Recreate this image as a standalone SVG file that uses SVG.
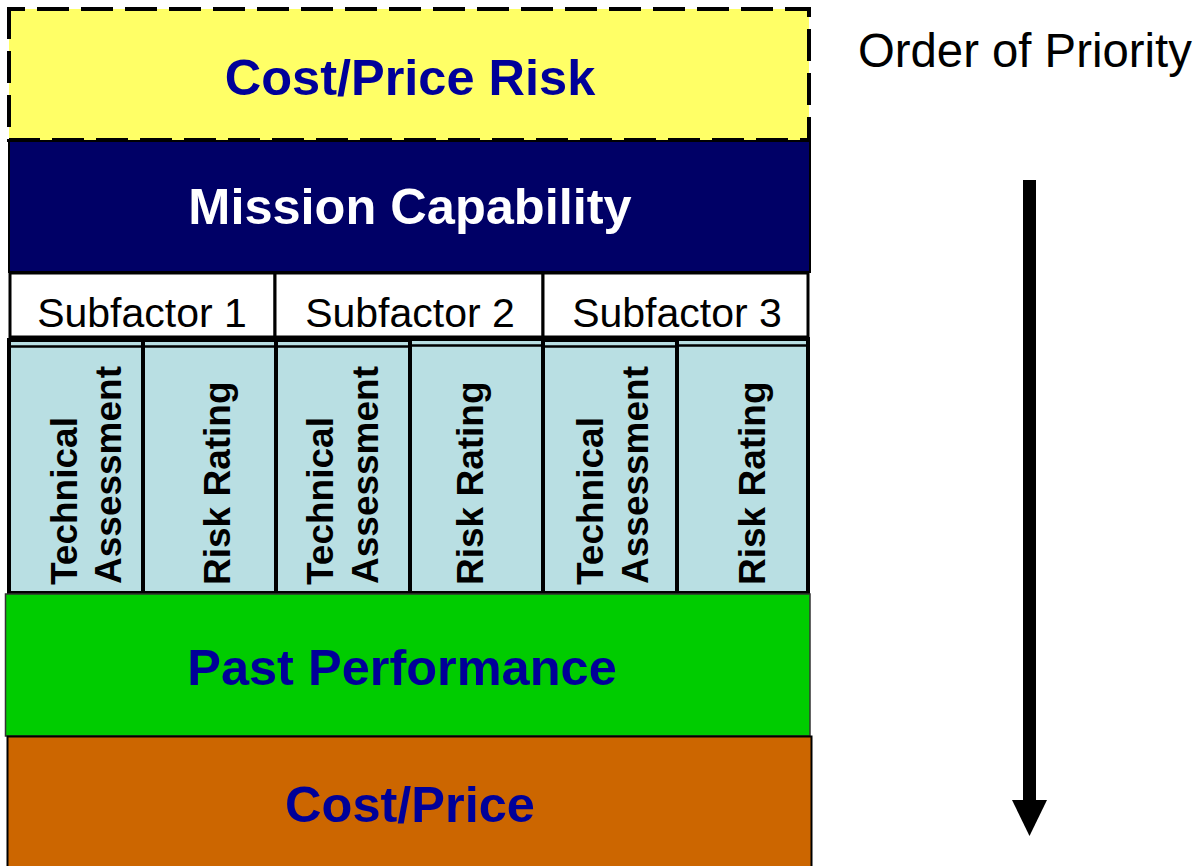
<svg xmlns="http://www.w3.org/2000/svg" width="1200" height="866" viewBox="0 0 1200 866">
  <style>
    .band-title { font-family: "Liberation Sans", Arial, sans-serif; font-weight: bold; font-size: 50.5px; text-anchor: middle; }
    .navy-text { fill: #000099; }
    .sub { font-family: "Liberation Sans", Arial, sans-serif; font-size: 41px; text-anchor: middle; fill: #000000; }
    .col-text { font-family: "Liberation Sans", Arial, sans-serif; font-weight: bold; font-size: 37px; fill: #000000; }
    .cell { fill: #B9DFE3; stroke: #000000; stroke-width: 4; }
    .subcell { fill: #FFFFFF; stroke: #000000; stroke-width: 3; }
  </style>
  <defs>
    <marker id="arrowhead" markerWidth="36" markerHeight="35" refX="0" refY="17.5" orient="auto" markerUnits="userSpaceOnUse" viewBox="0 0 36 35">
      <path d="M0,0 L36,17.5 L0,35 Z" fill="#000000"/>
    </marker>
  </defs>
  <rect width="1200" height="866" fill="#FFFFFF"/>

  <!-- Cost/Price Risk band -->
  <g id="cost-price-risk">
    <rect x="9" y="9" width="800" height="131" fill="#FFFF66" stroke="#000000" stroke-width="4" stroke-dasharray="32,12" stroke-dashoffset="16"/>
    <text class="band-title navy-text" x="410" y="95">Cost/Price Risk</text>
  </g>

  <!-- Mission Capability band -->
  <g id="mission-capability">
    <rect x="9" y="141" width="801" height="131" fill="#000066" stroke="#000000" stroke-width="2"/>
    <text class="band-title" x="410" y="224" fill="#FFFFFF">Mission Capability</text>
  </g>

  <!-- Subfactor headers -->
  <g id="subfactor-1">
    <rect class="subcell" x="10" y="273" width="265" height="64"/>
    <text class="sub" x="142" y="327">Subfactor 1</text>
  </g>
  <g id="subfactor-2">
    <rect class="subcell" x="275" y="273" width="268" height="64"/>
    <text class="sub" x="410" y="327">Subfactor 2</text>
  </g>
  <g id="subfactor-3">
    <rect class="subcell" x="543" y="273" width="265" height="64"/>
    <text class="sub" x="677" y="327">Subfactor 3</text>
  </g>

  <!-- Technical assessment / risk rating columns -->
  <g id="sf1-technical">
    <rect class="cell" x="9" y="340" width="134" height="253"/>
    <line x1="9" y1="346.5" x2="143" y2="346.5" stroke="#000000" stroke-width="2.5"/>
    <text class="col-text" transform="translate(77,585) rotate(-90)">Technical</text>
    <text class="col-text" transform="translate(121,584) rotate(-90)">Assessment</text>
  </g>
  <g id="sf1-risk">
    <rect class="cell" x="143" y="340" width="133" height="253"/>
    <line x1="143" y1="346.5" x2="276" y2="346.5" stroke="#000000" stroke-width="2.5"/>
    <text class="col-text" transform="translate(230,585) rotate(-90)">Risk Rating</text>
  </g>
  <g id="sf2-technical">
    <rect class="cell" x="276" y="340" width="134" height="253"/>
    <line x1="276" y1="346.5" x2="410" y2="346.5" stroke="#000000" stroke-width="2.5"/>
    <text class="col-text" transform="translate(333,585) rotate(-90)">Technical</text>
    <text class="col-text" transform="translate(378,584) rotate(-90)">Assessment</text>
  </g>
  <g id="sf2-risk">
    <rect class="cell" x="410" y="339" width="133" height="254"/>
    <line x1="410" y1="345.5" x2="543" y2="345.5" stroke="#000000" stroke-width="2.5"/>
    <text class="col-text" transform="translate(483,585) rotate(-90)">Risk Rating</text>
  </g>
  <g id="sf3-technical">
    <rect class="cell" x="543" y="340" width="134" height="253"/>
    <line x1="543" y1="346.5" x2="677" y2="346.5" stroke="#000000" stroke-width="2.5"/>
    <text class="col-text" transform="translate(603,585) rotate(-90)">Technical</text>
    <text class="col-text" transform="translate(648,584) rotate(-90)">Assessment</text>
  </g>
  <g id="sf3-risk">
    <rect class="cell" x="677" y="339" width="131" height="254"/>
    <line x1="677" y1="345.5" x2="808" y2="345.5" stroke="#000000" stroke-width="2.5"/>
    <text class="col-text" transform="translate(765,585) rotate(-90)">Risk Rating</text>
  </g>

  <!-- Past Performance band -->
  <g id="past-performance">
    <rect x="5.5" y="594" width="804.5" height="142" fill="#00CC00" stroke="#333333" stroke-width="1.5"/>
    <text class="band-title navy-text" x="402" y="685">Past Performance</text>
  </g>

  <!-- Cost/Price band -->
  <g id="cost-price">
    <rect x="7.5" y="736.5" width="804" height="135" fill="#CC6600" stroke="#000000" stroke-width="2"/>
    <text class="band-title navy-text" x="410" y="822">Cost/Price</text>
  </g>

  <!-- Priority label -->
  <g id="priority-label">
    <text x="858" y="67" font-family="Liberation Sans, Arial, sans-serif" font-size="47.3" fill="#000000">Order of Priority</text>
  </g>

  <!-- Priority arrow -->
  <g id="connectors">
    <line x1="1029.5" y1="180" x2="1029.5" y2="800" stroke="#000000" stroke-width="13" marker-end="url(#arrowhead)"/>
  </g>
</svg>
